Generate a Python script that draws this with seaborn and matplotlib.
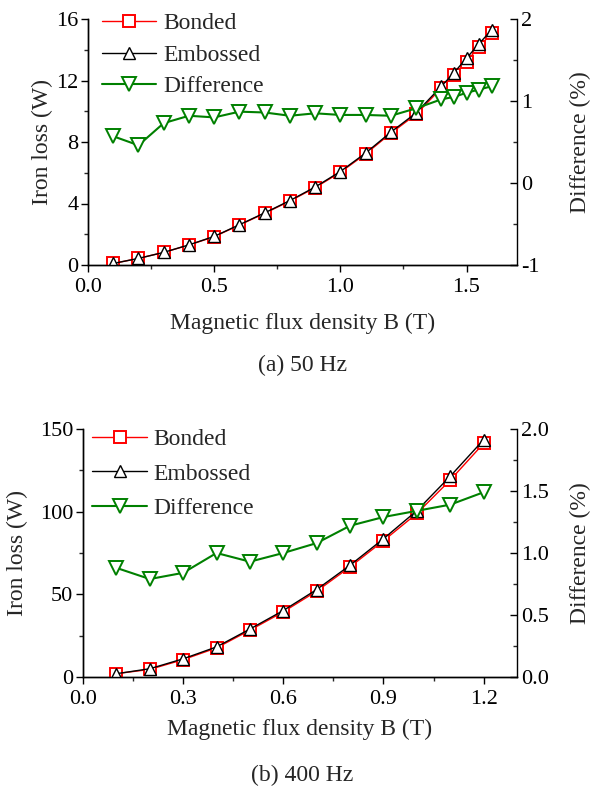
import numpy as np
import pandas as pd
import seaborn as sns
import matplotlib.pyplot as plt
from matplotlib.ticker import MultipleLocator, FormatStrFormatter
from matplotlib.lines import Line2D

# ---- 50 Hz data ----
b_50 = [0.1, 0.2, 0.3, 0.4, 0.5, 0.6, 0.7, 0.8, 0.9, 1.0, 1.1, 1.2, 1.3,
        1.4, 1.45, 1.5, 1.55, 1.6]
bonded_50 = [0.10, 0.43, 0.82, 1.30, 1.84, 2.60, 3.36, 4.16, 5.03, 6.03,
             7.22, 8.57, 9.80, 11.50, 12.36, 13.23, 14.20, 15.07]
embossed_50 = [0.10, 0.43, 0.82, 1.31, 1.86, 2.62, 3.39, 4.19, 5.07, 6.08,
               7.28, 8.64, 9.89, 11.62, 12.50, 13.45, 14.40, 15.30]
diff_50 = [0.57, 0.46, 0.73, 0.82, 0.80, 0.87, 0.86, 0.82, 0.85, 0.83,
           0.83, 0.82, 0.91, 1.02, 1.05, 1.10, 1.14, 1.18]

# ---- 400 Hz data ----
b_400 = [0.1, 0.2, 0.3, 0.4, 0.5, 0.6, 0.7, 0.8, 0.9, 1.0, 1.1, 1.2]
bonded_400 = [2.0, 4.6, 10.5, 17.6, 28.3, 39.4, 51.9, 66.6, 82.4, 98.9,
              119.1, 141.3]
embossed_400 = [2.0, 5.0, 11.0, 18.2, 29.0, 40.2, 52.9, 67.6, 83.6, 100.6,
                121.4, 143.5]
diff_400 = [0.88, 0.79, 0.84, 1.00, 0.93, 1.00, 1.08, 1.22, 1.29, 1.34,
            1.39, 1.49]

sns.set_style("ticks")
plt.rcParams['font.family'] = ['Liberation Serif', 'DejaVu Serif']

FS_TICK = 16
FS_LABEL = 17
FS_LEG = 17

fig = plt.figure(figsize=(5.93, 7.89), dpi=100)

RED = '#ff0000'
GREEN = '#008000'

SQ = dict(marker='s', markersize=8.5, markerfacecolor='white',
          markeredgecolor=RED, markeredgewidth=1.4)
UP = dict(marker='^', markersize=8, markerfacecolor='white',
          markeredgecolor='black', markeredgewidth=1.0)
DN = dict(marker='v', markersize=10.5, markerfacecolor='white',
          markeredgecolor=GREEN, markeredgewidth=1.4)


def draw_panel(rect, b, bonded, embossed, diff, xlim, xmaj, xmin, ylim, ymaj,
               ymin, y2lim, y2maj, y2min, y2fmt, caption, cap_y, lab_y,
               ylab_x, y2lab_x, leg_anchor, leg_spacing):
    ax = fig.add_axes(rect)
    df = pd.DataFrame({'B': b, 'Bonded': bonded, 'Embossed': embossed,
                       'Difference': diff})
    sns.lineplot(data=df, x='B', y='Bonded', ax=ax, color=RED, lw=1.0,
                 zorder=3, **SQ)
    sns.lineplot(data=df, x='B', y='Embossed', ax=ax, color='black', lw=1.0,
                 zorder=4, **UP)
    ax2 = ax.twinx()
    sns.lineplot(data=df, x='B', y='Difference', ax=ax2, color=GREEN, lw=1.5,
                 zorder=3, **DN)

    ax.set_xlim(*xlim)
    ax.set_ylim(*ylim)
    ax2.set_ylim(*y2lim)
    ax.xaxis.set_major_locator(MultipleLocator(xmaj))
    ax.xaxis.set_minor_locator(MultipleLocator(xmin))
    ax.xaxis.set_major_formatter(FormatStrFormatter('%.1f'))
    ax.yaxis.set_major_locator(MultipleLocator(ymaj))
    ax.yaxis.set_minor_locator(MultipleLocator(ymin))
    ax2.yaxis.set_major_locator(MultipleLocator(y2maj))
    ax2.yaxis.set_minor_locator(MultipleLocator(y2min))
    ax2.yaxis.set_major_formatter(FormatStrFormatter(y2fmt))

    for a in (ax, ax2):
        a.spines['top'].set_visible(False)
        for s in a.spines.values():
            s.set_linewidth(1.0)
            s.set_color('black')
    ax.spines['right'].set_visible(False)

    ax.tick_params(axis='both', which='major', direction='out', length=5,
                   width=1, labelsize=FS_TICK, colors='black', pad=2)
    ax.tick_params(axis='x', which='major', pad=4)
    ax.tick_params(axis='both', which='minor', direction='out', length=3,
                   width=1)
    ax2.tick_params(axis='y', which='major', direction='in', length=5,
                    width=1, labelsize=FS_TICK, colors='black', pad=3)
    ax2.tick_params(axis='y', which='minor', direction='in', length=3,
                    width=1)

    ax.set_xlabel('Magnetic flux density B (T)', fontsize=FS_LABEL)
    ax.set_ylabel('Iron loss (W)', fontsize=FS_LABEL)
    ax2.set_ylabel('Difference (%)', fontsize=FS_LABEL)
    ax.xaxis.set_label_coords(0.5, lab_y)
    ax.yaxis.set_label_coords(ylab_x, 0.5)
    ax2.yaxis.set_label_coords(y2lab_x, 0.5)
    for lab in (ax.yaxis.label, ax2.yaxis.label):
        lab.set_va('center')
        lab.set_ha('center')

    handles = [
        Line2D([], [], color=RED, lw=1.0, **SQ),
        Line2D([], [], color='black', lw=1.0, **UP),
        Line2D([], [], color=GREEN, lw=1.5, **DN),
    ]
    ax2.legend(handles, ['Bonded', 'Embossed', 'Difference'],
               loc='upper left', bbox_to_anchor=leg_anchor,
               frameon=False, fontsize=FS_LEG, handlelength=2.3,
               handletextpad=0.3, labelspacing=leg_spacing,
               borderaxespad=0.0)

    fig.text(0.51, cap_y, caption, ha='center', va='center',
             fontsize=FS_LABEL)
    return ax, ax2


draw_panel([88 / 593, 1 - 265 / 789, (517 - 88) / 593, (265 - 19) / 789],
           b_50, bonded_50, embossed_50, diff_50,
           xlim=(0.0, 1.7), xmaj=0.5, xmin=0.25, ylim=(0, 16), ymaj=4,
           ymin=2, y2lim=(-1, 2), y2maj=1, y2min=0.5, y2fmt='%d',
           caption='(a) 50 Hz', cap_y=1 - 365 / 789, lab_y=-0.195,
           ylab_x=-0.107, y2lab_x=1.149,
           leg_anchor=(0.011, 1.063), leg_spacing=0.42)

draw_panel([83 / 593, 1 - 677 / 789, (517 - 83) / 593, (677 - 429) / 789],
           b_400, bonded_400, embossed_400, diff_400,
           xlim=(0.0, 1.3), xmaj=0.3, xmin=0.15, ylim=(0, 150), ymaj=50,
           ymin=25, y2lim=(0, 2.0), y2maj=0.5, y2min=0.25, y2fmt='%.1f',
           caption='(b) 400 Hz', cap_y=1 - 775 / 789, lab_y=-0.17,
           ylab_x=-0.15, y2lab_x=1.147,
           leg_anchor=(0.0, 1.04), leg_spacing=0.55)

fig.savefig('out.png', dpi=100)
